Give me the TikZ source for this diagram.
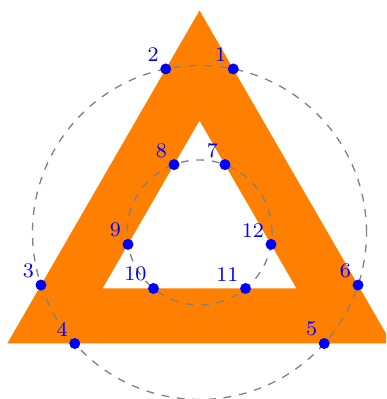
\documentclass[tikz,border=0pt]{standalone}
\usetikzlibrary{calc}
\begin{document}
\begin{tikzpicture}[x=1pt,y=1pt,
  tri/.style={fill={rgb,255:red,255;green,128;blue,0},even odd rule},
  circ/.style={draw=gray,line width=1.3pt,dash pattern=on 7.8pt off 7.8pt},
  dot/.style={circle,fill=blue,inner sep=0pt,minimum size=11pt},
  lab/.style={text=blue,inner sep=6.9pt,anchor=south east}]
\newcommand{\lbl}[1]{\scalebox{2.6}{\footnotesize #1}}
\useasboundingbox (0,0) rectangle (386,399);
\clip (0,0) rectangle (386,399);
\coordinate (C) at (199.5,166.5);
\fill[tri] ($(C)+(90:222)$) -- ($(C)+(210:222)$) -- ($(C)+(330:222)$) -- cycle
  ($(C)+(90:112)$) -- ($(C)+(210:112)$) -- ($(C)+(330:112)$) -- cycle;
\draw[circ] (C) circle[radius=167];
\draw[circ] (C) circle[radius=72.5];
\foreach \a/\n in {78.34/1,101.66/2,198.34/3,221.66/4,318.34/5,341.66/6}{
  \node[dot] (p\n) at ($(C)+(\a:167)$) {};
  \node[lab] (l\n) at (p\n.center) {\lbl{\n}};}
\foreach \a/\n in {69.43/7,110.57/8,189.43/9,230.57/10,309.43/11,350.57/12}{
  \node[dot] (p\n) at ($(C)+(\a:72.5)$) {};
  \node[lab] (l\n) at (p\n.center) {\lbl{\n}};}
\end{tikzpicture}
\end{document}
